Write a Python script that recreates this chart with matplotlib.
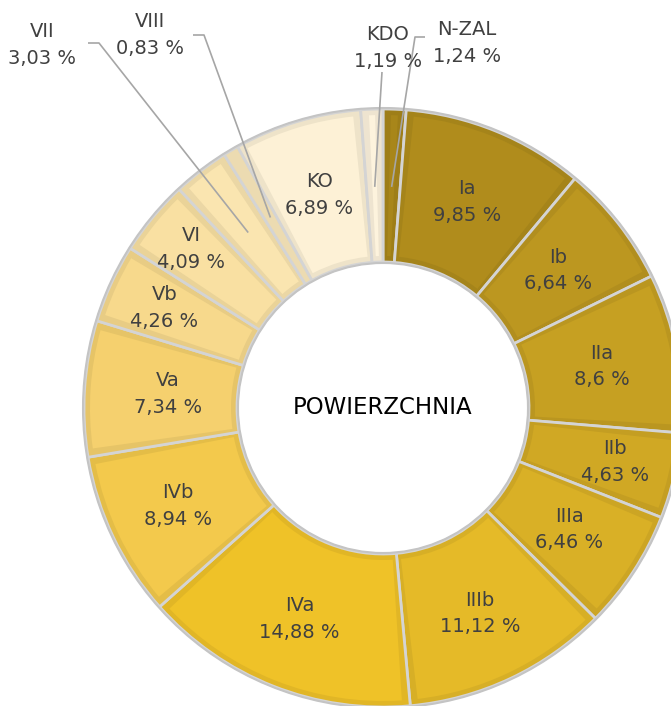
import numpy as np
import matplotlib
matplotlib.use("Agg")
import matplotlib.pyplot as plt
from matplotlib.patches import Wedge, Circle
from matplotlib.colors import to_rgb

plt.rcParams['font.family'] = ['DejaVu Sans']

# ---- data ----
categories = ["N-ZAL", "Ia", "Ib", "IIa", "IIb", "IIIa", "IIIb", "IVa",
              "IVb", "Va", "Vb", "VI", "VII", "VIII", "KO", "KDO"]
values = [1.24, 9.85, 6.64, 8.6, 4.63, 6.46, 11.12, 14.88,
          8.94, 7.34, 4.26, 4.09, 3.03, 0.83, 6.89, 1.19]
value_labels = ["1,24 %", "9,85 %", "6,64 %", "8,6 %", "4,63 %", "6,46 %",
                "11,12 %", "14,88 %", "8,94 %", "7,34 %", "4,26 %", "4,09 %",
                "3,03 %", "0,83 %", "6,89 %", "1,19 %"]
center_title = "POWIERZCHNIA"

colors = ["#a8861a", "#b08c1c", "#bc9720", "#c6a022", "#d0a824", "#d9b026",
          "#e5ba28", "#efc228", "#f3c94c", "#f5d06e", "#f7d98c", "#f9e0a2",
          "#fae5b0", "#fbe9bc", "#fdf1d6", "#fdf3dd"]

W, H = 671, 706
fig = plt.figure(figsize=(W / 100, H / 100), dpi=100)
ax = fig.add_axes([0, 0, 1, 1])

cx, cy = 383, H - 408
R = 299
ring = 153


def shade(c, f):
    r, g, b = to_rgb(c)
    return (r * f, g * f, b * f)


wedges, _ = ax.pie(values, colors=[shade(c, 0.94) for c in colors],
                   startangle=90, counterclock=False,
                   center=(cx, cy), radius=R,
                   wedgeprops=dict(width=ring, edgecolor="#d4d4d4", linewidth=2.0))

ax.set_xlim(0, W)
ax.set_ylim(0, H)
ax.set_aspect('equal', adjustable='box')
ax.axis('off')

# bevel: inset face of each slice in the base colour
bev = 6
for w, c in zip(wedges, colors):
    r_out = R - bev
    r_in = R - ring + bev
    dth = np.rad2deg(bev / (R - ring / 2))
    t1, t2 = w.theta1 + dth, w.theta2 - dth
    if t2 > t1:
        ax.add_patch(Wedge((cx, cy), r_out, t1, t2, width=r_out - r_in,
                           fc=c, ec='none', zorder=2))

# outline rings
ax.add_patch(Circle((cx, cy), R + 1, fill=False, ec="#c4c4c4", lw=1.5, zorder=3))
ax.add_patch(Circle((cx, cy), R - ring - 1, fill=False, ec="#c4c4c4", lw=1.5, zorder=3))

outside = {"VII": (42, 45), "VIII": (150, 35), "KDO": (388, 48), "N-ZAL": (467, 43)}
elbows = {"VII": [(88, 43), (99, 43)], "VIII": [(193, 35), (204, 35)],
          "KDO": [(382, 72)], "N-ZAL": [(425, 37), (415, 37)]}
radius_adj = {"IIb": 1.07, "Vb": 1.08, "VI": 1.12, "IVa": 1.02, "IIIb": 1.02,
              "IVb": 1.02, "Va": 0.97}

rl = (R - ring / 2)
for w, cat, lab in zip(wedges, categories, value_labels):
    mid = np.deg2rad((w.theta1 + w.theta2) / 2)
    if cat in outside:
        tx, ty = outside[cat]
        ex = cx + 0.74 * R * np.cos(mid)
        ey = cy + 0.74 * R * np.sin(mid)
        pts = [(ex, ey)] + [(x, H - y) for x, y in reversed(elbows[cat])]
        xs, ys = zip(*pts)
        ax.plot(xs, ys, color="#a6a6a6", lw=1.2, zorder=4, solid_capstyle='butt')
        ax.text(tx, H - ty, f"{cat}\n{lab}", ha='center', va='center', fontsize=14,
                color="#404040", linespacing=1.5, zorder=5)
    else:
        r = rl * radius_adj.get(cat, 1.0)
        tx = cx + r * np.cos(mid)
        ty = cy + r * np.sin(mid)
        ax.text(tx, ty, f"{cat}\n{lab}", ha='center', va='center', fontsize=14,
                color="#404040", linespacing=1.5, zorder=5)

ax.text(cx, cy + 1, center_title, ha='center', va='center', fontsize=16.5, color="black")

fig.savefig("out.png", dpi=100)
